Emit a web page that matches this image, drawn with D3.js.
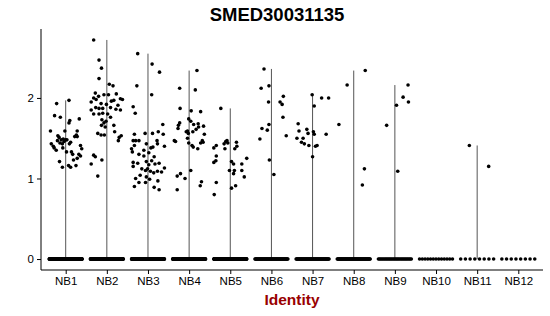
<!DOCTYPE html>
<html>
<head>
<meta charset="utf-8">
<script src="https://cdn.jsdelivr.net/npm/d3@7"></script>
<style>
  body { margin: 0; background: #fff; }
  text { font-family: "Liberation Sans", Arial, sans-serif; }
</style>
</head>
<body>
<div id="chart"></div>
<script>
// gene + groups
const gene = "SMED30031135";
const identities = ["NB1","NB2","NB3","NB4","NB5","NB6","NB7","NB8","NB9","NB10","NB11","NB12"];
const yTicks = [0, 1, 2];

// cells with zero expression in each group
const zeroCounts = [200, 200, 200, 200, 200, 60, 60, 60, 30, 13, 8, 8];

// expressing cells: [jitter offset (fraction of a group step), expression]
const nb1Cells = [[.08,1.97],[-.22,1.93],[-.27,1.78],[-.13,1.76],[.10,1.72],[.08,1.69],[.33,1.74],[-.37,1.59],
  [-.19,1.53],[-.02,1.59],[.28,1.59],[.26,1.54],[-.16,1.51],[-.06,1.49],[0,1.48],[-.04,1.46],[.03,1.48],
  [.22,1.52],[.28,1.52],[.12,1.45],[-.35,1.43],[-.30,1.40],[-.14,1.44],[-.08,1.43],[.09,1.43],[.36,1.41],
  [.39,1.37],[-.28,1.38],[-.23,1.35],[-.07,1.38],[.02,1.33],[.14,1.33],[.32,1.30],[.17,1.30],[-.15,1.21],
  [-.08,1.14],[.07,1.16],[.12,1.14],[.19,1.23],[.25,1.16],[.28,1.25],[.36,1.28],[-.20,1.47],[-.11,1.48]];
const nb2Cells = [[-.32,2.72],[-.19,2.47],[-.13,2.37],[-.19,2.24],[.06,2.17],[.15,2.15],[-.28,2.06],[-.20,2.02],
  [-.07,2.04],[.04,2.04],[.23,2.05],[.33,1.99],[-.32,2.00],[-.26,1.98],[-.38,1.95],[.11,1.96],[.17,1.97],
  [.27,1.91],[.38,1.98],[-.14,1.93],[-.01,1.92],[-.27,1.88],[-.38,1.85],[-.19,1.87],[-.10,1.87],[.09,1.88],
  [.22,1.86],[.33,1.85],[.02,1.80],[-.32,1.80],[-.19,1.80],[-.10,1.81],[-.12,1.73],[-.07,1.69],[-.13,1.66],
  [-.04,1.64],[.17,1.66],[-.22,1.56],[-.14,1.54],[-.06,1.54],[.19,1.58],[.28,1.47],[.35,1.53],[.30,1.51],
  [-.32,1.29],[-.28,1.27],[-.12,1.23],[-.38,1.18],[-.22,1.03],[-.02,1.71],[.09,1.76]];
const nb3Cells = [[-.25,2.55],[.10,2.42],[.28,2.32],[.09,2.04],[-.27,2.15],[-.36,1.89],[-.31,1.81],[.36,1.67],
  [-.33,1.55],[-.36,1.47],[-.30,1.47],[-.07,1.56],[.11,1.56],[.25,1.58],[.37,1.55],[-.40,1.37],[-.38,1.33],
  [-.33,1.41],[-.22,1.47],[-.10,1.35],[-.04,1.43],[.07,1.38],[.12,1.39],[.22,1.47],[.23,1.43],[.40,1.40],
  [-.22,1.30],[-.10,1.28],[.02,1.32],[.15,1.27],[-.36,1.20],[-.36,1.15],[-.25,1.19],[-.15,1.12],[-.04,1.21],
  [.02,1.17],[.17,1.18],[.27,1.19],[.40,1.13],[.09,1.22],[-.06,1.10],[-.01,1.12],[.06,1.09],[.14,1.07],
  [.23,1.09],[.33,1.08],[-.30,1.00],[-.19,1.04],[-.04,1.02],[.04,0.99],[.24,0.97],[-.22,0.95],[-.06,0.95],
  [-.33,0.90],[.15,0.89],[.27,0.86]];
const nb4Cells = [[.19,2.34],[-.23,2.12],[.15,2.10],[-.22,1.87],[.05,1.84],[.28,1.83],[-.23,1.69],[-.26,1.66],
  [-.27,1.62],[-.01,1.74],[.04,1.71],[.11,1.67],[.22,1.68],[.23,1.64],[.35,1.65],[-.07,1.58],[-.02,1.56],
  [-.04,1.59],[.09,1.58],[.17,1.61],[.37,1.55],[-.04,1.50],[-.36,1.47],[-.33,1.46],[-.01,1.44],[.07,1.41],
  [.10,1.39],[.21,1.37],[.28,1.44],[.34,1.45],[.32,1.47],[.04,1.10],[-.21,1.06],[-.10,1.00],[-.29,1.03],
  [.30,0.96],[.27,0.91],[-.29,0.86]];
const nb5Cells = [[-.23,1.87],[-.40,1.38],[-.34,1.41],[-.15,1.43],[-.11,1.46],[-.08,1.47],[-.06,1.44],[.15,1.45],
  [.16,1.40],[.11,1.37],[-.13,1.37],[-.34,1.28],[-.40,1.20],[-.35,1.22],[.03,1.21],[.08,1.18],[.28,1.18],
  [.40,1.25],[-.02,1.10],[.10,1.10],[.08,1.06],[.28,1.10],[.34,1.02],[-.34,0.95],[.03,0.88],[.13,0.91],
  [-.39,0.80]];
const nb6Cells = [[-.18,2.36],[-.06,2.15],[-.25,2.12],[-.07,1.95],[.29,2.02],[.21,1.95],[.26,1.92],[.28,1.76],
  [-.06,1.67],[-.10,1.60],[-.23,1.62],[-.28,1.49],[.36,1.53],[-.05,1.23],[.06,1.05]];
const nb7Cells = [[-.01,2.04],[.22,2.00],[.39,2.00],[.04,1.90],[-.35,1.68],[-.33,1.59],[-.14,1.61],[.02,1.58],
  [.04,1.55],[-.11,1.56],[.33,1.55],[-.38,1.50],[-.23,1.50],[-.27,1.45],[-.20,1.43],[-.09,1.41],[.07,1.40],
  [.11,1.41],[0,1.27]];
const nb8Cells = [[.28,2.34],[-.16,2.16],[-.36,1.67],[.26,1.12],[.21,0.92]];
const nb9Cells = [[.32,2.16],[.20,2.01],[.33,1.95],[.04,1.91],[-.20,1.66],[.07,1.09]];
const nb10Cells = [];
const nb11Cells = [[-.19,1.41],[.28,1.15]];
const nb12Cells = [];
const cellsByIdentity = [nb1Cells, nb2Cells, nb3Cells, nb4Cells, nb5Cells, nb6Cells,
  nb7Cells, nb8Cells, nb9Cells, nb10Cells, nb11Cells, nb12Cells];

const width = 550, height = 316;
const margin = {top: 29, right: 7, bottom: 46, left: 41};
const jitterWidth = 0.4;

let svg = d3.select("#chart")
    .append("svg")
    .attr("width", width)
    .attr("height", height);

let x = d3.scalePoint()
    .domain(identities)
    .range([margin.left, width - margin.right])
    .padding(0.6);

let maxExpr = d3.max(cellsByIdentity, c => d3.max(c, d => d[1]) || 0);
let pad = maxExpr * 0.05;
let y = d3.scaleLinear()
    .domain([-pad, maxExpr + pad])
    .range([height - margin.bottom, margin.top]);

// violins collapse to a thin line from 0 up to the max value
identities.forEach(function(id, i) {
    let cells = cellsByIdentity[i];
    let top = cells.length ? d3.max(cells, d => d[1]) : 0;
    if (top > 0) {
        svg.append("line")
            .attr("x1", x(id)).attr("x2", x(id))
            .attr("y1", y(0)).attr("y2", y(top))
            .attr("stroke", "#555")
            .attr("stroke-width", 1);
    }
});

// zero cells spread across the jitter width
identities.forEach(function(id, i) {
    let n = zeroCounts[i];
    let zeros = d3.range(n).map(k => n > 1 ? -jitterWidth + 2 * jitterWidth * k / (n - 1) : 0);
    svg.append("g")
        .selectAll("circle")
        .data(zeros)
        .enter().append("circle")
        .attr("cx", d => x(id) + d * x.step())
        .attr("cy", y(0))
        .attr("r", 1.8)
        .attr("fill", "black");
});

// expressing cells
identities.forEach(function(id, i) {
    svg.append("g")
        .selectAll("circle")
        .data(cellsByIdentity[i])
        .enter().append("circle")
        .attr("cx", d => x(id) + d[0] * x.step())
        .attr("cy", d => y(d[1]))
        .attr("r", 1.8)
        .attr("fill", "black");
});

let yAxis = svg.append("g")
    .attr("transform", `translate(${margin.left},0)`)
    .call(d3.axisLeft(y).tickValues(yTicks).tickSize(4).tickPadding(3).tickFormat(d3.format("d")));

let xAxis = svg.append("g")
    .attr("transform", `translate(0,${height - margin.bottom})`)
    .call(d3.axisBottom(x).tickSize(4).tickPadding(3));

[xAxis, yAxis].forEach(function(ax) {
    ax.select(".domain").attr("stroke", "black").attr("stroke-width", 1);
    ax.selectAll(".tick line").attr("stroke", "black");
    ax.selectAll(".tick text")
        .attr("fill", "black")
        .style("font-size", "11.5px")
        .style("font-family", "Liberation Sans, Arial, sans-serif");
});
// ggplot draws the axis lines without end caps
yAxis.select(".domain").attr("d", `M0,${y.range()[0]}V${y.range()[1]}`);
xAxis.select(".domain").attr("d", `M${x.range()[0]},0H${x.range()[1]}`);

svg.append("text")
    .attr("x", 277)
    .attr("y", 21)
    .style("text-anchor", "middle")
    .style("font-size", "18.5px")
    .style("font-weight", "bold")
    .text(gene);

svg.append("text")
    .attr("x", (x.range()[0] + x.range()[1]) / 2)
    .attr("y", 305)
    .style("text-anchor", "middle")
    .style("font-size", "15.5px")
    .style("font-weight", "bold")
    .attr("fill", "#990000")
    .text("Identity");
</script>
</body>
</html>
